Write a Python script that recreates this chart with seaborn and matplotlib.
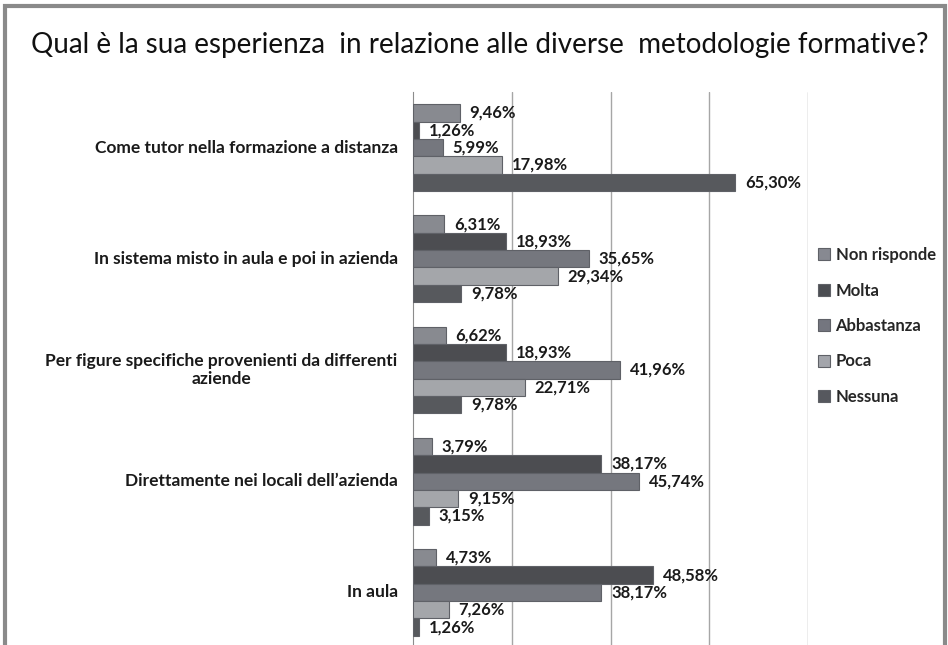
import pandas as pd
import seaborn as sns
import matplotlib.pyplot as plt
from matplotlib.patches import Rectangle

# Data
categories = [
    "Come tutor nella formazione a distanza",
    "In sistema misto in aula e poi in azienda",
    "Per figure specifiche provenienti da differenti\naziende",
    "Direttamente nei locali dell\u2019azienda",
    "In aula",
]
series = ["Non risponde", "Molta", "Abbastanza", "Poca", "Nessuna"]
non_risponde = [9.46, 6.31, 6.62, 3.79, 4.73]
molta = [1.26, 18.93, 18.93, 38.17, 48.58]
abbastanza = [5.99, 35.65, 41.96, 45.74, 38.17]
poca = [17.98, 29.34, 22.71, 9.15, 7.26]
nessuna = [65.30, 9.78, 9.78, 3.15, 1.26]
colors = ["#878991", "#4b4d52", "#74767f", "#a3a5ab", "#56585e"]

rows = []
for name, vals in zip(series, [non_risponde, molta, abbastanza, poca, nessuna]):
    for cat, v in zip(categories, vals):
        rows.append({"categoria": cat, "risposta": name, "valore": v})
df = pd.DataFrame(rows)

sns.set_style("white")
plt.rcParams["font.family"] = ["Lato", "DejaVu Sans"]

fig = plt.figure(figsize=(9.48, 6.45), dpi=100)
W, H = 948, 645
ax = fig.add_axes([413 / W, (H - 648) / H, (808 - 413) / W, (648 - 92) / H])

sns.barplot(data=df, y="categoria", x="valore", hue="risposta", order=categories,
            hue_order=series, palette=colors, orient="h", width=0.78,
            edgecolor="#5f6167", linewidth=0.8, legend=False, ax=ax, zorder=3)

# value labels
for cont, name in zip(ax.containers, series):
    labels = [f"{v:.2f}%".replace(".", ",") for v in cont.datavalues]
    ax.bar_label(cont, labels=labels, padding=7, fontsize=12, fontweight="bold",
                 color="#1a1a1a")

ax.set_xlim(0, 80)
ax.set_ylim(4.5, -0.5)
ax.set_xticks([20, 40, 60, 80])
ax.set_xticklabels([])
ax.xaxis.grid(True, color="#a6a6a6", linewidth=1)
ax.set_axisbelow(True)
ax.tick_params(axis="x", length=0)
ax.set_xlabel("")
ax.set_ylabel("")
for s in ["top", "right", "bottom"]:
    ax.spines[s].set_visible(False)
ax.spines["left"].set_color("#8c8c8c")

# category labels (centered multi-line, right-anchored next to the axis)
ax.set_yticks(range(len(categories)))
ax.set_yticklabels([])
for i, cat in enumerate(categories):
    ax.annotate(cat, xy=(0, i), xycoords=("axes fraction", "data"),
                xytext=(-11, 0), textcoords="offset points", ha="right", va="center",
                multialignment="center", fontsize=12.5, fontweight="bold",
                color="#1a1a1a")
ax.set_yticks([0.5, 1.5, 2.5, 3.5], minor=True)
ax.tick_params(axis="y", which="major", length=0)
ax.tick_params(axis="y", which="minor", length=5, color="#8c8c8c", direction="out")

# legend
handles = [Rectangle((0, 0), 1, 1, facecolor=c, edgecolor="#5f6167", linewidth=0.8)
           for c in colors]
fig.legend(handles, series, loc="upper left", bbox_to_anchor=(803 / W, 1 - 232 / H),
           frameon=False, prop={"weight": "bold", "size": 12},
           handlelength=0.7, handleheight=0.7, handletextpad=0.35, labelspacing=1.17)

fig.text(480 / W, 1 - 45 / H,
         "Qual è la sua esperienza  in relazione alle diverse  metodologie formative?",
         ha="center", va="center", fontsize=20, color="#111111")

# slide border
fig.patches.append(Rectangle((5 / W, -0.02), (940 / W), 1 - 6 / H + 0.02,
                             transform=fig.transFigure, fill=False,
                             edgecolor="#8a8a8a", linewidth=3))

fig.savefig("out.png", dpi=100)
